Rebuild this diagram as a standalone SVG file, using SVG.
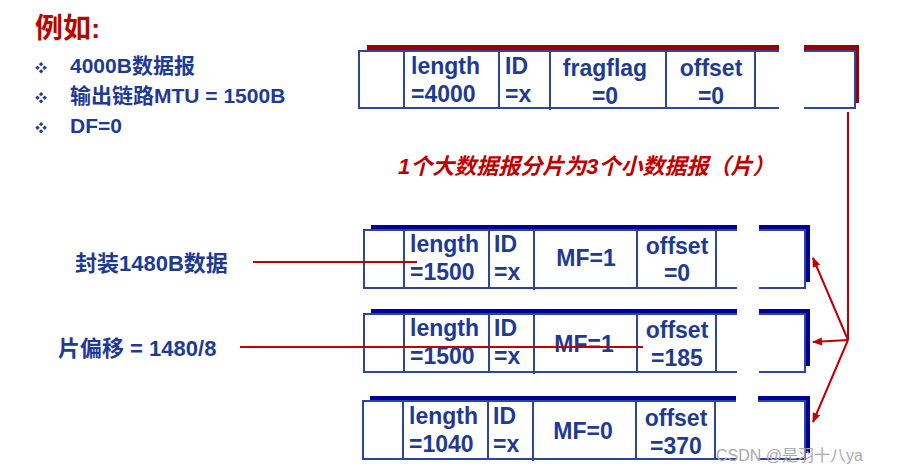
<svg xmlns="http://www.w3.org/2000/svg" width="899" height="472" viewBox="0 0 899 472">
<style>
.t{font-family:"Liberation Sans","Noto Sans CJK SC",sans-serif;font-weight:bold;fill:#1f3a93}
.c{text-anchor:middle}
.box{fill:#fff;stroke:#2e45a0;stroke-width:2}
.dv{stroke:#2e45a0;stroke-width:2}
.r{stroke:#c00000;stroke-width:2;fill:none}
</style>
<defs><marker id="a" markerWidth="10" markerHeight="8" refX="9" refY="4" orient="auto" markerUnits="userSpaceOnUse"><path d="M0,0L10,4L0,8z" fill="#c00000"/></marker></defs>
<rect width="899" height="472" fill="#fff"/>
<text x="35" y="38" font-family="Liberation Sans,Noto Sans CJK SC,sans-serif" font-weight="bold" font-size="28" fill="#c00000">例如:</text>
<g class="t" font-size="21">
<text x="35" y="73" font-size="12">❖</text><text x="70" y="73">4000B数据报</text>
<text x="35" y="103" font-size="12">❖</text><text x="70" y="103">输出链路MTU = 1500B</text>
<text x="35" y="133" font-size="12">❖</text><text x="70" y="133">DF=0</text>
</g>
<text x="398" y="174" font-family="Liberation Sans,Noto Sans CJK SC,sans-serif" font-weight="bold" font-style="italic" font-size="22" fill="#c00000">1个大数据报分片为3个小数据报（片）</text>
<g id="orig">
<rect x="367" y="45" width="492" height="58" fill="#9a0000"/>
<rect x="359" y="51" width="496" height="57" class="box"/>
<rect x="779" y="40" width="25" height="72" fill="#fff"/>
<g class="dv"><line x1="404" y1="51" x2="404" y2="108"/><line x1="499" y1="51" x2="499" y2="108"/><line x1="550" y1="51" x2="550" y2="110"/><line x1="666" y1="51" x2="666" y2="108"/><line x1="755" y1="51" x2="755" y2="108"/></g>
<g class="t" font-size="23"><text x="411" y="74">length</text><text x="411" y="102">=4000</text><text x="505" y="74">ID</text><text x="505" y="102">=x</text>
<text class="c" x="605" y="76">fragflag</text><text class="c" x="605" y="104">=0</text><text class="c" x="711" y="76">offset</text><text class="c" x="711" y="104">=0</text></g>
</g>
<g id="f1">
<rect x="371" y="225" width="439" height="57" fill="#000099"/>
<rect x="364" y="230" width="441" height="58" class="box"/>
<rect x="737" y="220" width="22" height="72" fill="#fff"/>
<g class="dv"><line x1="404" y1="230" x2="404" y2="288"/><line x1="489" y1="230" x2="489" y2="288"/><line x1="534" y1="230" x2="534" y2="290"/><line x1="637" y1="230" x2="637" y2="288"/><line x1="716" y1="230" x2="716" y2="288"/></g>
<g class="t" font-size="23"><text x="410" y="252">length</text><text x="410" y="280">=1500</text><text x="494" y="252">ID</text><text x="494" y="280">=x</text>
<text class="c" x="586" y="266">MF=1</text><text class="c" x="677" y="254">offset</text><text class="c" x="677" y="281">=0</text></g>
</g>
<g id="f2">
<rect x="371" y="309" width="439" height="57" fill="#000099"/>
<rect x="364" y="314" width="441" height="58" class="box"/>
<rect x="737" y="304" width="22" height="72" fill="#fff"/>
<g class="dv"><line x1="404" y1="314" x2="404" y2="372"/><line x1="489" y1="314" x2="489" y2="372"/><line x1="534" y1="314" x2="534" y2="374"/><line x1="637" y1="314" x2="637" y2="372"/><line x1="716" y1="314" x2="716" y2="372"/></g>
<g class="t" font-size="23"><text x="410" y="336">length</text><text x="410" y="364">=1500</text><text x="494" y="336">ID</text><text x="494" y="364">=x</text>
<text class="c" x="584" y="352">MF=1</text><text class="c" x="677" y="338">offset</text><text class="c" x="677" y="366">=185</text></g>
</g>
<g id="f3">
<rect x="370" y="396" width="440" height="57" fill="#000099"/>
<rect x="363" y="401" width="442" height="58" class="box"/>
<rect x="736" y="391" width="22" height="72" fill="#fff"/>
<g class="dv"><line x1="403" y1="401" x2="403" y2="459"/><line x1="488" y1="401" x2="488" y2="459"/><line x1="533" y1="401" x2="533" y2="461"/><line x1="636" y1="401" x2="636" y2="459"/><line x1="715" y1="401" x2="715" y2="459"/></g>
<g class="t" font-size="23"><text x="409" y="424">length</text><text x="409" y="452">=1040</text><text x="493" y="424">ID</text><text x="493" y="452">=x</text>
<text class="c" x="583" y="439">MF=0</text><text class="c" x="676" y="426">offset</text><text class="c" x="676" y="454">=370</text></g>
</g>
<g class="t" font-size="22"><text x="75" y="271">封装1480B数据</text><text x="58" y="356">片偏移 = 1480/8</text></g>
<g id="connectors">
<line class="r" x1="253" y1="262" x2="417" y2="262"/>
<line class="r" x1="240" y1="347" x2="643" y2="347"/>
<line class="r" x1="848" y1="112" x2="848" y2="340"/>
<line class="r" x1="848" y1="340" x2="813" y2="258" marker-end="url(#a)"/>
<line class="r" x1="848" y1="340" x2="813" y2="342" marker-end="url(#a)"/>
<line class="r" x1="848" y1="340" x2="813" y2="422" marker-end="url(#a)"/>
</g>
<text x="716" y="461" font-family="Liberation Sans,Noto Sans CJK SC,sans-serif" font-size="16" fill="#aaa">CSDN @是羽十八ya</text>
</svg>
